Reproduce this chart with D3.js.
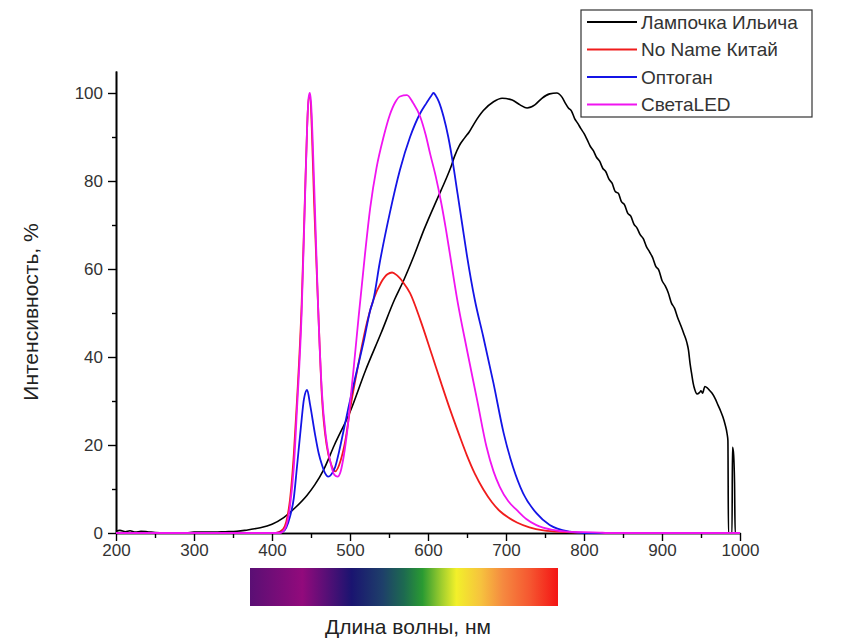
<!DOCTYPE html>
<html>
<head>
<meta charset="utf-8">
<script src="https://cdn.jsdelivr.net/npm/d3@7"></script>
<style>
  body { margin: 0; background: #fff; }
  text { font-family: "Liberation Sans", Arial, sans-serif; }
</style>
</head>
<body>
<div id="chart"></div>
<script>
// series names + colours
const seriesNames = ['Лампочка Ильича', 'No Name Китай', 'Оптоган', 'СветаLED'];
const seriesColors = ['#000000', '#f01c1c', '#1414e6', '#f014f0'];

// [wavelength nm, intensity %]
const lamp = [
  [200, 0.4], [205, 0.6], [212, 0.3], [218, 0.5], [225, 0.2], [232, 0.4], [240, 0.3], [250, 0.1],
  [262, 0], [290, 0], [300, 0.2], [320, 0.2], [340, 0.3], [355, 0.4], [365, 0.6], [372, 0.8],
  [385, 1.2], [400, 2], [415, 3.5], [430, 5.8], [445, 8.6], [455, 11], [466, 14.3], [480, 20],
  [500, 27.5], [520, 37], [540, 45.5], [557, 53], [569, 57.5], [582, 63], [595, 69], [612, 76],
  [622, 80], [629, 83], [634, 85.6], [640, 88], [647, 89.8], [653, 91.2], [659, 93], [671, 96],
  [684, 98], [695, 98.8], [708, 98.4],
  [718, 97.3], [727, 96.6], [737, 97.3], [746, 98.8], [756, 99.8], [765, 100], [772, 99],
  [776, 97.7], [780, 96.6], [784, 95.9], [788, 94.2], [792, 93.1], [796, 91.9], [800, 90.8],
  [804, 89.4], [808, 87.9], [812, 86.9], [816, 85.4], [820, 84.5], [824, 82.9], [828, 82.1],
  [832, 80.4], [836, 79.5], [840, 77.6], [844, 77.2], [848, 75.3], [852, 74.6], [856, 72.7],
  [860, 72.0], [864, 70.2], [868, 69.3], [872, 67.8], [876, 66.9], [880, 65.1], [884, 63.9],
  [888, 62.6], [892, 60.6], [896, 59.7], [900, 57.4], [904, 56.2], [908, 54.6], [912, 52.3],
  [916, 51.1], [920, 49.0], [924, 47.2], [928, 45.3], [932, 43.2], [934, 41.5], [936, 38.5],
  [938, 36.2], [940, 34.0], [942, 32.6], [945, 31.6], [948, 31.9], [950, 32.3], [952, 31.8],
  [955, 33.3], [958, 33.0], [961, 32.4], [964, 31.8], [968, 30.6], [972, 29.0], [975, 27.8],
  [978, 26.4], [981, 24.6], [983.5, 22.5], [984.5, 21], [985.2, 0], [989.8, 0], [990.3, 19.5],
  [991.5, 18.5], [992.3, 16], [993, 11.5], [993.8, 0], [1000, 0]
];

const noName = [
  [200, 0], [405, 0], [414, 0.8], [423, 7.5], [428, 18], [432, 30], [438, 52], [442, 75],
  [445, 92], [447, 99], [449, 99], [451, 92], [454, 75], [459, 52], [464, 31], [470, 20],
  [476, 15.5], [481, 14], [488, 16.5], [494, 21], [500, 28], [506, 34], [513, 40.5], [522, 48],
  [530, 53], [540, 57], [548, 58.8], [554, 59.2], [560, 58.6], [568, 57], [577, 54.5],
  [590, 48.5], [605, 40.5], [617, 34], [628, 28.2], [640, 22.3], [650, 17.6], [660, 13.5],
  [671, 9.9], [682, 7.0], [692, 5.0], [703, 3.5], [714, 2.4], [730, 1.3], [748, 0.6],
  [778, 0.2], [800, 0], [1000, 0]
];

const optogan = [
  [200, 0], [405, 0], [414, 0.3], [423, 3.7], [428, 8], [432, 15], [437, 24], [441, 30.5],
  [445, 32.5], [449, 29], [455, 22.6], [460, 18], [464, 15.5], [468, 13.6], [472, 12.8],
  [476, 13.3], [481, 15], [486, 18.5], [491, 22.6], [498, 28.5], [505, 34], [518, 43.9],
  [526, 50.7], [530, 53], [538, 61.3], [551, 72.7], [564, 82.5], [577, 90], [590, 95.4],
  [598, 97.7], [604, 99.3], [607, 100], [610, 99.4], [614, 98], [620, 94.6], [626, 90],
  [632, 84], [638, 77], [644, 70], [650, 63], [660, 53], [671, 44.5], [684, 34], [697, 22.7],
  [709, 15], [722, 9], [739, 4.5], [756, 1.8], [782, 0.3], [800, 0], [1000, 0]
];

const svetaLed = [
  [200, 0], [410, 0], [416, 0.8], [423, 6], [428, 15], [432, 28], [438, 50], [442, 74],
  [445, 92], [447, 99], [448.5, 100], [450, 98], [452, 90], [455, 74], [459, 52], [464, 32],
  [469, 22], [475, 16], [480, 13.2], [484, 12.8], [488, 14], [492, 17.5], [497, 24], [501, 31],
  [505, 38], [511, 49], [519, 63], [526, 74], [534, 83], [543, 90], [551, 95], [558, 97.9],
  [564, 99.2], [573, 99.5], [581, 97.7], [590, 94.6], [597, 90.5], [603, 86], [610, 81],
  [617, 75], [623, 69], [628, 63.5], [637, 53.5], [650, 41.6], [663, 30.2], [675, 19.6],
  [684, 14], [692, 10.5], [703, 7.2], [714, 5.2], [726, 3.2], [739, 1.8], [760, 0.7],
  [778, 0.3], [820, 0.1], [830, 0], [1000, 0]
];

const xTicks = [200, 300, 400, 500, 600, 700, 800, 900, 1000];
const xMinor = [250, 350, 450, 550, 650, 750, 850, 950];
const yTicks = [0, 20, 40, 60, 80, 100];
const yMinor = [10, 30, 50, 70, 90];

const width = 841, height = 641;

const svg = d3.select('#chart').append('svg')
  .attr('width', width)
  .attr('height', height);

const x = d3.scaleLinear().domain([200, 1000]).range([116, 740]);
const y = d3.scaleLinear().domain([0, 105]).range([533, 71]);

// axes
const styleAxis = g => {
  g.select('.domain').attr('stroke', '#000').attr('stroke-width', 1.6);
  g.selectAll('.tick line').attr('stroke', '#000').attr('stroke-width', 1.4);
  g.selectAll('.tick text').attr('fill', '#333').style('font-size', '17px')
    .style('font-family', '"Liberation Sans", Arial, sans-serif');
};

svg.append('g')
  .attr('transform', 'translate(0,' + y(0) + ')')
  .call(d3.axisBottom(x).tickValues(xMinor).tickSize(5).tickSizeOuter(0).tickFormat(''))
  .call(styleAxis);
svg.append('g')
  .attr('transform', 'translate(0,' + y(0) + ')')
  .call(d3.axisBottom(x).tickValues(xTicks).tickSize(8).tickPadding(3).tickSizeOuter(0).tickFormat(d3.format('d')))
  .call(styleAxis);

svg.append('g')
  .attr('transform', 'translate(' + x(200) + ',0)')
  .call(d3.axisLeft(y).tickValues(yMinor).tickSize(4).tickSizeOuter(0).tickFormat(''))
  .call(styleAxis);
svg.append('g')
  .attr('transform', 'translate(' + x(200) + ',0)')
  .call(d3.axisLeft(y).tickValues(yTicks).tickSize(8).tickPadding(5).tickSizeOuter(0))
  .call(styleAxis);

// curves
const line = d3.line()
  .x(d => x(d[0]))
  .y(d => y(d[1]))
  .curve(d3.curveMonotoneX);

[lamp, noName, optogan, svetaLed].forEach((s, i) => {
  svg.append('path')
    .datum(s)
    .attr('fill', 'none')
    .attr('stroke', seriesColors[i])
    .attr('stroke-width', i === 0 ? 1.6 : 1.8)
    .attr('stroke-linejoin', 'round')
    .attr('d', line);
});

// legend
const legend = svg.append('g').attr('transform', 'translate(581,10)');
legend.append('rect')
  .attr('width', 231).attr('height', 107)
  .attr('fill', '#fff').attr('stroke', '#333').attr('stroke-width', 1.2);
seriesNames.forEach((name, i) => {
  const ly = 12 + i * 27.5;
  legend.append('line')
    .attr('x1', 6).attr('x2', 56).attr('y1', ly).attr('y2', ly)
    .attr('stroke', seriesColors[i]).attr('stroke-width', 1.8);
  legend.append('text')
    .attr('x', 60).attr('y', ly)
    .attr('dy', '0.36em')
    .attr('fill', '#333')
    .style('font-size', '19px')
    .text(name);
});

// spectrum strip under the axis
const grad = svg.append('defs').append('linearGradient').attr('id', 'spectrum');
const stops = [
  [0, '#5a0f74'], [0.17, '#920a7c'], [0.33, '#1a1470'], [0.43, '#1e3f6a'],
  [0.5, '#1d6a50'], [0.56, '#2a9a32'], [0.62, '#9ccc2e'], [0.67, '#f2f02a'],
  [0.75, '#f6c23e'], [0.82, '#f58a40'], [0.91, '#f55630'], [1, '#f41414']
];
stops.forEach(s => grad.append('stop').attr('offset', s[0]).attr('stop-color', s[1]));
svg.append('rect')
  .attr('x', 250).attr('y', 568).attr('width', 308).attr('height', 38)
  .attr('fill', 'url(#spectrum)');

// axis titles
svg.append('text')
  .attr('x', 408).attr('y', 626)
  .attr('dy', '0.36em')
  .attr('text-anchor', 'middle')
  .attr('fill', '#222')
  .style('font-size', '21px')
  .text('Длина волны, нм');

svg.append('text')
  .attr('transform', 'translate(30,312) rotate(-90)')
  .attr('dy', '0.36em')
  .attr('text-anchor', 'middle')
  .attr('fill', '#222')
  .style('font-size', '21px')
  .text('Интенсивность, %');
</script>
</body>
</html>
